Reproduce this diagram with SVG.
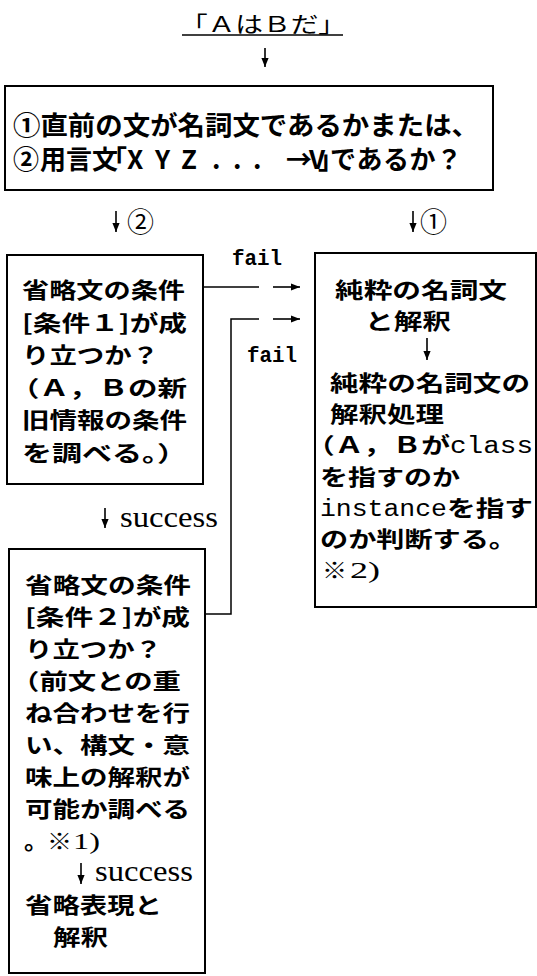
<svg xmlns="http://www.w3.org/2000/svg" width="537" height="976" viewBox="0 0 537 976">
<defs>
<style>
.box{fill:none;stroke:#000;stroke-width:2}
.ln{fill:none;stroke:#000;stroke-width:1.5}
.arr{fill:none;stroke:#000;stroke-width:1.6;marker-end:url(#ah)}
.t{font-family:"Noto Sans CJK JP",sans-serif;font-weight:700;font-size:22px;fill:#000}
.tb{font-size:26px}
.mono{font-family:"Liberation Mono","DejaVu Sans Mono",monospace}
.serif{font-family:"Liberation Serif","Noto Sans CJK JP",serif;font-weight:400}
.reg{font-weight:400}
</style>
<marker id="ah" viewBox="0 0 10 10" refX="10" refY="5" markerWidth="9" markerHeight="9" markerUnits="userSpaceOnUse" orient="auto">
<path d="M0,1 L10,5 L0,9 z" fill="#000"/>
</marker>
</defs>
<rect x="0" y="0" width="537" height="976" fill="#fff"/>

<g id="title">
<text class="t reg" x="180" y="32" style="font-size:22px" textLength="166" lengthAdjust="spacingAndGlyphs">「ＡはＢだ」</text>
<line class="ln" x1="182" y1="35" x2="343" y2="35"/>
</g>

<g id="node-question">
<rect class="box" x="5" y="86" width="488" height="104"/>
<text class="t tb" x="13" y="135" textLength="466" lengthAdjust="spacingAndGlyphs">①直前の文が名詞文であるかまたは、</text>
<text class="t tb" y="169" x="13 40 66 92 101 127 143 155 170 181 197 212 233 253 262 286 309 318 330 356.5 383 409.5 436">②用言文「X Y Z ... →V」であるか？</text>
</g>

<g id="node-cond1">
<rect class="box" x="7" y="255" width="196" height="229"/>
<text class="t" x="22" y="298" textLength="163" lengthAdjust="spacingAndGlyphs">省略文の条件</text>
<text class="t" x="22" y="331" textLength="165" lengthAdjust="spacingAndGlyphs">[条件１]が成</text>
<text class="t" x="22" y="363" textLength="137" lengthAdjust="spacingAndGlyphs">り立つか？</text>
<text class="t" x="10" y="396" textLength="177" lengthAdjust="spacingAndGlyphs">（Ａ，Ｂの新</text>
<text class="t" x="22" y="428" textLength="165" lengthAdjust="spacingAndGlyphs">旧情報の条件</text>
<text class="t" x="22" y="461" textLength="165" lengthAdjust="spacingAndGlyphs">を調べる。）</text>
</g>

<g id="node-noun">
<rect class="box" x="315" y="253" width="221" height="354"/>
<text class="t" x="335" y="298" textLength="172" lengthAdjust="spacingAndGlyphs">純粋の名詞文</text>
<text class="t" x="365" y="329" textLength="86" lengthAdjust="spacingAndGlyphs">と解釈</text>
<path class="arr" d="M427,338 V360"/>
<text class="t" x="330" y="391" textLength="200" lengthAdjust="spacingAndGlyphs">純粋の名詞文の</text>
<text class="t" x="330" y="422" textLength="114" lengthAdjust="spacingAndGlyphs">解釈処理</text>
<text class="t" y="453"><tspan x="306" textLength="144" lengthAdjust="spacingAndGlyphs">（Ａ，Ｂが</tspan><tspan class="mono" style="font-weight:400;font-size:23px" x="450" textLength="83" lengthAdjust="spacingAndGlyphs">class</tspan></text>
<text class="t" x="320" y="485" textLength="140" lengthAdjust="spacingAndGlyphs">を指すのか</text>
<text class="t" y="516"><tspan class="mono" style="font-weight:400;font-size:23px" x="320" textLength="127" lengthAdjust="spacingAndGlyphs">instance</tspan><tspan x="447" textLength="86" lengthAdjust="spacingAndGlyphs">を指す</tspan></text>
<text class="t" x="320" y="547" textLength="197" lengthAdjust="spacingAndGlyphs">のか判断する。</text>
<text class="t" y="578"><tspan x="322" textLength="25" lengthAdjust="spacingAndGlyphs">※</tspan><tspan class="serif" style="font-size:24px" x="350" textLength="30" lengthAdjust="spacingAndGlyphs">2)</tspan></text>
</g>

<g id="node-cond2">
<rect class="box" x="9" y="549" width="196" height="424"/>
<text class="t" x="25" y="593" textLength="166" lengthAdjust="spacingAndGlyphs">省略文の条件</text>
<text class="t" x="25" y="625" textLength="165" lengthAdjust="spacingAndGlyphs">[条件２]が成</text>
<text class="t" x="25" y="657" textLength="137" lengthAdjust="spacingAndGlyphs">り立つか？</text>
<text class="t" x="11" y="689" textLength="170" lengthAdjust="spacingAndGlyphs">（前文との重</text>
<text class="t" x="25" y="721" textLength="165" lengthAdjust="spacingAndGlyphs">ね合わせを行</text>
<text class="t" x="25" y="753" textLength="165" lengthAdjust="spacingAndGlyphs">い、構文・意</text>
<text class="t" x="25" y="785" textLength="165" lengthAdjust="spacingAndGlyphs">味上の解釈が</text>
<text class="t" x="25" y="817" textLength="165" lengthAdjust="spacingAndGlyphs">可能か調べる</text>
<text class="t" y="849"><tspan x="24" textLength="24" lengthAdjust="spacingAndGlyphs">。</tspan><tspan x="47" textLength="25" lengthAdjust="spacingAndGlyphs">※</tspan><tspan class="serif" style="font-size:24px" x="73" textLength="27" lengthAdjust="spacingAndGlyphs">1)</tspan></text>
<path class="arr" d="M81,863 V884"/>
<text class="t serif" x="95" y="881" style="font-size:29px" textLength="98" lengthAdjust="spacingAndGlyphs">success</text>
<text class="t" x="25" y="913" textLength="137" lengthAdjust="spacingAndGlyphs">省略表現と</text>
<text class="t" x="53" y="945" textLength="55" lengthAdjust="spacingAndGlyphs">解釈</text>
</g>

<g id="connectors">
<path class="arr" d="M265,48 V67"/>
<path class="arr" d="M116,211 V232"/>
<text class="t reg" x="127" y="232" style="font-size:27px">②</text>
<path class="arr" d="M413,211 V232"/>
<text class="t reg" x="420" y="232" style="font-size:27px">①</text>
<path class="ln" d="M203,287 H259"/>
<path class="arr" d="M273,287 H300"/>
<text class="t mono" x="232" y="265" style="font-size:22px" textLength="50" lengthAdjust="spacingAndGlyphs">fail</text>
<path class="ln" d="M205,614 H231 V319 H259"/>
<path class="arr" d="M273,319 H300"/>
<text class="t mono" x="247" y="362" style="font-size:22px" textLength="50" lengthAdjust="spacingAndGlyphs">fail</text>
<path class="arr" d="M105,508 V528"/>
<text class="t serif" x="120" y="527" style="font-size:29px" textLength="98" lengthAdjust="spacingAndGlyphs">success</text>
</g>
</svg>
